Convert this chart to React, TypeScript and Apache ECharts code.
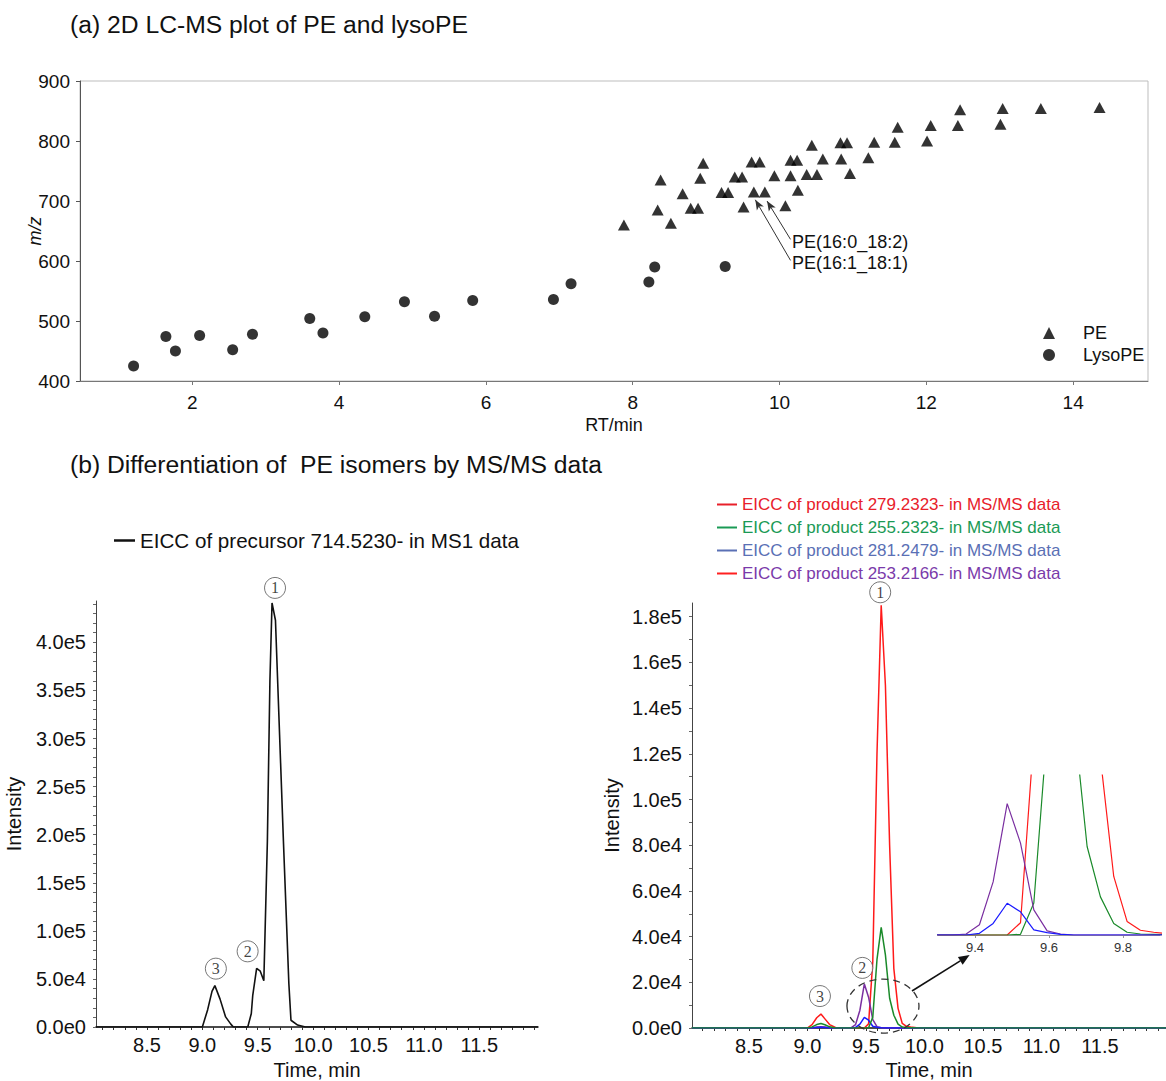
import React, { useEffect, useRef } from 'react';
import * as echarts from 'echarts';

const FONT = '"Liberation Sans", Arial, Helvetica, sans-serif';
const SERIF = '"Liberation Serif", "DejaVu Serif", serif';

// ---------- (a) 2D LC-MS scatter ----------
const peRT = [7.88, 8.38, 8.34, 8.52, 8.68, 8.79, 8.89, 8.92, 8.96, 9.21, 9.30, 9.39, 9.49, 9.51, 9.62, 9.73, 9.65, 9.80, 9.93, 10.08, 10.15, 10.24, 10.15, 10.25, 10.37, 10.51, 10.44, 10.59, 10.83, 10.92, 10.84, 10.96, 11.21, 11.29, 11.57, 11.61, 12.01, 12.06, 12.43, 12.46, 13.01, 13.04, 13.56, 14.36];
const peMZ = [660, 735, 685, 663, 712, 688, 688, 738, 763, 714, 714, 740, 740, 690, 765, 765, 715, 715, 742, 692, 768, 768, 742, 718, 744, 744, 793, 770, 797, 797, 770, 746, 772, 798, 798, 823, 800, 826, 826, 852, 828, 854, 854, 856];
const lysoRT = [1.20, 1.64, 1.77, 2.10, 2.55, 2.82, 3.60, 3.78, 4.35, 4.89, 5.30, 5.82, 6.92, 7.16, 8.22, 8.30, 9.26];
const lysoMZ = [425, 474, 450, 476, 452, 478, 504, 480, 507, 532, 508, 534, 536, 562, 565, 590, 591];
const rtTicks = [2, 4, 6, 8, 10, 12, 14];

// ---------- (b) left: MS1 EICC ----------
const ms1Time = [8.04, 9.0, 9.048, 9.087, 9.113, 9.16, 9.21, 9.257, 9.28, 9.41, 9.442, 9.455, 9.49, 9.523, 9.555, 9.587, 9.61, 9.629, 9.66, 9.732, 9.781, 9.8, 9.86, 9.93, 12.03];
const ms1Int = [0, 0, 18000, 37000, 43000, 29000, 10500, 3000, 0, 0, 14000, 33000, 61000, 58000, 48000, 193000, 360000, 441000, 423000, 193000, 45000, 7000, 2000, 0, 0];

// ---------- (b) right: MS/MS EICC ----------
const msmsTime = [8.014, 8.96, 9.0, 9.04, 9.08, 9.116, 9.15, 9.19, 9.24, 9.28, 9.34, 9.376, 9.412, 9.449, 9.487, 9.523, 9.559, 9.595, 9.631, 9.667, 9.703, 9.739, 9.775, 9.811, 9.847, 9.883, 9.95, 12.065];
const eicc279 = [0, 0, 0, 1500, 4500, 6100, 4000, 1500, 200, 0, 0, 0, 0, 0, 0, 1800, 29000, 120000, 185000, 150000, 80000, 26000, 8600, 2000, 700, 400, 0, 0];
const eicc255 = [0, 0, 0, 500, 1500, 2000, 1400, 500, 0, 0, 0, 0, 0, 0, 0, 100, 4700, 30000, 44000, 32000, 13000, 5600, 1700, 400, 150, 100, 0, 0];
const eicc281 = [0, 0, 0, 0, 200, 300, 200, 0, 0, 0, 0, 0, 250, 1700, 4660, 3400, 750, 350, 100, 0, 0, 0, 0, 0, 0, 0, 0, 0];
const eicc253 = [0, 0, 0, 100, 400, 600, 400, 100, 0, 0, 0, 150, 1500, 7800, 19300, 13500, 3700, 600, 150, 0, 0, 0, 0, 0, 0, 0, 0, 0];

const timeTicks = [8.5, 9.0, 9.5, 10.0, 10.5, 11.0, 11.5];
const insetTicks = [9.4, 9.6, 9.8];

const MS1_NAME = 'EICC of precursor 714.5230- in MS1 data';
const N279 = 'EICC of product 279.2323- in MS/MS data';
const N255 = 'EICC of product 255.2323- in MS/MS data';
const N281 = 'EICC of product 281.2479- in MS/MS data';
const N253 = 'EICC of product 253.2166- in MS/MS data';

const C_RED = '#ff1a1a';
const C_GREEN = '#1a8a2a';
const C_BLUE = '#1a1aff';
const C_PURPLE = '#7a2fa0';

const pairs = (xs: number[], ys: number[]) => xs.map((x, i) => [x, ys[i]]);
const range = (a: number, b: number, step: number) => {
  const out: number[] = [];
  for (let k = Math.round(a / step); k <= Math.round(b / step); k++) out.push(+(k * step).toFixed(6));
  return out;
};
const expFmt = (v: number) => v.toExponential(1).replace('e+', 'e');

export default function App() {
  const ref = useRef<HTMLDivElement>(null);
  useEffect(() => {
    document.body.style.margin = '0';
    const chart = echarts.init(ref.current!, null, { renderer: 'svg' });

    const tickLabel = { fontFamily: FONT, color: '#111' };
    const circ = (value: number[], label: string, off: number[]) => ({
      value,
      symbolOffset: off,
      label: { formatter: label },
    });
    const circleSeries = (xi: number, data: any[]) => ({
      type: 'scatter',
      name: 'peak-' + xi,
      xAxisIndex: xi,
      yAxisIndex: xi,
      clip: false,
      z: 10,
      symbol: 'circle',
      symbolSize: 21,
      itemStyle: { color: '#fff', borderColor: '#555', borderWidth: 1 },
      label: { show: true, position: 'inside', fontFamily: SERIF, fontSize: 16, color: '#111' },
      silent: true,
      data,
    });

    const option: any = {
      animation: false,
      backgroundColor: '#fff',
      title: [
        { text: '(a) 2D LC-MS plot of PE and lysoPE', left: 70, top: 12, padding: 0, textStyle: { fontFamily: FONT, fontSize: 24.7, fontWeight: 'normal', color: '#111' } },
        { text: '(b) Differentiation of  PE isomers by MS/MS data', left: 70, top: 452, padding: 0, textStyle: { fontFamily: FONT, fontSize: 24.7, fontWeight: 'normal', color: '#111' } },
      ],
      legend: [
        {
          data: ['PE', 'LysoPE'], orient: 'vertical', left: 1038, top: 319, itemWidth: 12, itemHeight: 12, itemGap: 4,
          selectedMode: false, textStyle: { fontFamily: FONT, fontSize: 18, color: '#111', padding: [0, 0, 0, 23] },
        },
        {
          data: [MS1_NAME], left: 109, top: 525, icon: 'rect', itemWidth: 21, itemHeight: 2.5, selectedMode: false,
          itemStyle: { color: '#111' },
          textStyle: { fontFamily: FONT, fontSize: 20.6, color: '#111' },
        },
        {
          data: [
            { name: N279, itemStyle: { color: '#e8202a' }, textStyle: { color: '#e8202a' } },
            { name: N255, itemStyle: { color: '#1a9a55' }, textStyle: { color: '#1a9a55' } },
            { name: N281, itemStyle: { color: '#5a70b5' }, textStyle: { color: '#5a70b5' } },
            { name: N253, itemStyle: { color: '#ff2020' }, textStyle: { color: '#7a3aaa' } },
          ],
          orient: 'vertical', left: 712, top: 491, icon: 'rect', itemWidth: 20, itemHeight: 2, itemGap: 6, selectedMode: false,
          textStyle: { fontFamily: FONT, fontSize: 17 },
        },
      ],
      grid: [
        { left: 80, top: 81, width: 1068, height: 300, show: true, borderColor: '#bdbdbd', borderWidth: 1, outerBoundsMode: 'none', containLabel: false },
        { left: 96, top: 601, width: 442, height: 426, outerBoundsMode: 'none', containLabel: false },
        { left: 692, top: 603, width: 474, height: 425, outerBoundsMode: 'none', containLabel: false },
        { left: 938, top: 775, width: 222, height: 160, outerBoundsMode: 'none', containLabel: false },
      ],
      xAxis: [
        {
          gridIndex: 0, type: 'value', min: 0.47, max: 15.02,
          name: 'RT/min', nameLocation: 'middle', nameGap: 35, nameMoveOverlap: false,
          nameTextStyle: { fontFamily: FONT, fontSize: 18, color: '#111' },
          axisLine: { onZero: false, lineStyle: { color: '#777' } },
          axisTick: { show: true, length: 4, customValues: rtTicks, lineStyle: { color: '#777' } },
          axisLabel: { ...tickLabel, fontSize: 19, margin: 12, customValues: rtTicks },
          splitLine: { show: false },
        },
        {
          gridIndex: 1, type: 'value', min: 8.04, max: 12.03,
          name: 'Time, min', nameLocation: 'middle', nameGap: 33, nameMoveOverlap: false,
          nameTextStyle: { fontFamily: FONT, fontSize: 20, lineHeight: 20, color: '#111' },
          axisLine: { onZero: false, lineStyle: { color: '#111', width: 1.5 } },
          axisTick: { show: true, length: 3, customValues: range(8.1, 12.0, 0.1), lineStyle: { color: '#333' } },
          axisLabel: { ...tickLabel, fontSize: 20, margin: 8, customValues: timeTicks, formatter: (v: number) => v.toFixed(1) },
          splitLine: { show: false },
        },
        {
          gridIndex: 2, type: 'value', min: 8.014, max: 12.065,
          name: 'Time, min', nameLocation: 'middle', nameGap: 32, nameMoveOverlap: false,
          nameTextStyle: { fontFamily: FONT, fontSize: 20, lineHeight: 20, color: '#111' },
          axisLine: { onZero: false, lineStyle: { color: '#111', width: 1.5 } },
          axisTick: { show: true, length: 3, customValues: range(8.1, 12.0, 0.1), lineStyle: { color: '#333' } },
          axisLabel: { ...tickLabel, fontSize: 20, margin: 8, customValues: timeTicks, formatter: (v: number) => v.toFixed(1) },
          splitLine: { show: false },
        },
        {
          gridIndex: 3, type: 'value', min: 9.3, max: 9.9,
          axisLine: { onZero: false, lineStyle: { color: '#999' } },
          axisTick: { show: true, length: 3, customValues: insetTicks, lineStyle: { color: '#999' } },
          axisLabel: { fontFamily: FONT, fontSize: 13, color: '#333', margin: 6, customValues: insetTicks, formatter: (v: number) => v.toFixed(1) },
          splitLine: { show: false },
        },
      ],
      yAxis: [
        {
          gridIndex: 0, type: 'value', min: 400, max: 900, interval: 100,
          name: 'm/z', nameLocation: 'middle', nameGap: 36, nameMoveOverlap: false,
          nameTextStyle: { fontFamily: FONT, fontSize: 18, fontStyle: 'italic', color: '#111' },
          axisLine: { show: true, lineStyle: { color: '#555' } },
          axisTick: { show: true, length: 4, lineStyle: { color: '#555' } },
          axisLabel: { ...tickLabel, fontSize: 19, margin: 10 },
          splitLine: { show: false },
        },
        {
          gridIndex: 1, type: 'value', min: 0, max: 443000,
          name: 'Intensity', nameLocation: 'middle', nameGap: 72, nameMoveOverlap: false,
          nameTextStyle: { fontFamily: FONT, fontSize: 20, color: '#111' },
          axisLine: { show: true, lineStyle: { color: '#444' } },
          axisTick: { show: true, length: 3, customValues: range(0, 440000, 10000), lineStyle: { color: '#666' } },
          axisLabel: { ...tickLabel, fontSize: 20, margin: 10, customValues: range(0, 400000, 50000), formatter: expFmt },
          splitLine: { show: false },
        },
        {
          gridIndex: 2, type: 'value', min: 0, max: 186000,
          name: 'Intensity', nameLocation: 'middle', nameGap: 70, nameMoveOverlap: false,
          nameTextStyle: { fontFamily: FONT, fontSize: 20, color: '#111' },
          axisLine: { show: true, lineStyle: { color: '#444' } },
          axisTick: { show: true, length: 3, customValues: range(0, 180000, 10000), lineStyle: { color: '#666' } },
          axisLabel: { ...tickLabel, fontSize: 20, margin: 10, customValues: range(0, 180000, 20000), formatter: expFmt },
          splitLine: { show: false },
        },
        {
          gridIndex: 3, type: 'value', min: 0, max: 23500, show: false,
          splitLine: { show: false },
        },
      ],
      series: [
        {
          type: 'scatter', name: 'PE', xAxisIndex: 0, yAxisIndex: 0, symbol: 'triangle', symbolSize: [12, 11],
          itemStyle: { color: '#000' }, data: pairs(peRT, peMZ),
          markLine: {
            silent: true, symbol: ['arrow', 'none'], symbolSize: [6, 10], animation: false,
            lineStyle: { color: '#333', width: 1, type: 'solid' },
            label: { show: true, position: 'end', formatter: '{b}', fontFamily: FONT, fontSize: 18, color: '#111', align: 'left', verticalAlign: 'middle', distance: 3 },
            data: [
              [{ coord: [9.83, 700], name: 'PE(16:0_18:2)' }, { coord: [10.15, 636] }],
              [{ coord: [9.67, 702], name: 'PE(16:1_18:1)' }, { coord: [10.15, 601] }],
            ],
          },
        },
        {
          type: 'scatter', name: 'LysoPE', xAxisIndex: 0, yAxisIndex: 0, symbol: 'circle', symbolSize: 11,
          itemStyle: { color: '#000' }, data: pairs(lysoRT, lysoMZ),
        },
        {
          type: 'line', name: MS1_NAME, xAxisIndex: 1, yAxisIndex: 1, symbol: 'none', showSymbol: false,
          lineStyle: { color: '#111', width: 1.6 }, itemStyle: { color: '#111' }, data: pairs(ms1Time, ms1Int),
        },
        circleSeries(1, [
          circ([9.629, 441000], '1', [3, -15]),
          circ([9.49, 61000], '2', [-9, -17]),
          circ([9.113, 43000], '3', [1, -17]),
        ]),
        // main MS/MS chart
        { type: 'line', name: N279, xAxisIndex: 2, yAxisIndex: 2, symbol: 'none', lineStyle: { color: C_RED, width: 1.5 }, itemStyle: { color: C_RED }, data: pairs(msmsTime, eicc279) },
        { type: 'line', name: N253, xAxisIndex: 2, yAxisIndex: 2, symbol: 'none', lineStyle: { color: C_PURPLE, width: 1.5 }, itemStyle: { color: C_PURPLE }, data: pairs(msmsTime, eicc253) },
        { type: 'line', name: N281, xAxisIndex: 2, yAxisIndex: 2, symbol: 'none', lineStyle: { color: C_BLUE, width: 1.5 }, itemStyle: { color: C_BLUE }, data: pairs(msmsTime, eicc281) },
        { type: 'line', name: N255, xAxisIndex: 2, yAxisIndex: 2, symbol: 'none', lineStyle: { color: C_GREEN, width: 1.5 }, itemStyle: { color: C_GREEN }, data: pairs(msmsTime, eicc255) },
        // inset
        { type: 'line', name: N279, xAxisIndex: 3, yAxisIndex: 3, symbol: 'none', lineStyle: { color: C_RED, width: 1.2 }, itemStyle: { color: C_RED }, data: pairs(msmsTime, eicc279) },
        { type: 'line', name: N255, xAxisIndex: 3, yAxisIndex: 3, symbol: 'none', lineStyle: { color: C_GREEN, width: 1.2 }, itemStyle: { color: C_GREEN }, data: pairs(msmsTime, eicc255) },
        { type: 'line', name: N253, xAxisIndex: 3, yAxisIndex: 3, symbol: 'none', lineStyle: { color: C_PURPLE, width: 1.2 }, itemStyle: { color: C_PURPLE }, data: pairs(msmsTime, eicc253) },
        { type: 'line', name: N281, xAxisIndex: 3, yAxisIndex: 3, symbol: 'none', lineStyle: { color: C_BLUE, width: 1.2 }, itemStyle: { color: C_BLUE }, data: pairs(msmsTime, eicc281) },
        circleSeries(2, [
          circ([9.631, 185000], '1', [-1, -13]),
          circ([9.487, 19300], '2', [-2, -16]),
          circ([9.116, 6100], '3', [-1, -18]),
        ]),
      ],
    };
    chart.setOption(option);

    // annotation: dashed ellipse and arrow pointing to the inset
    const c = chart.convertToPixel({ gridIndex: 2 } as any, [9.646, 9600]) as number[];
    const a0 = chart.convertToPixel({ gridIndex: 2 } as any, [9.894, 16200]) as number[];
    const base = chart.convertToPixel({ gridIndex: 3 } as any, [9.38, 0]) as number[];
    const a1 = [base[0] + 2, base[1] + 20];
    const dx = a1[0] - a0[0];
    const dy = a1[1] - a0[1];
    const len = Math.sqrt(dx * dx + dy * dy);
    const ux = dx / len;
    const uy = dy / len;
    const back = [a1[0] - ux * 11, a1[1] - uy * 11];
    const nx = -uy;
    const ny = ux;
    chart.setOption({
      graphic: [
        { type: 'ellipse', z: 100, shape: { cx: c[0], cy: c[1], rx: 36, ry: 27 }, style: { fill: 'none', stroke: '#333', lineWidth: 1.3, lineDash: [7, 5] } },
        { type: 'line', z: 100, shape: { x1: a0[0], y1: a0[1], x2: back[0], y2: back[1] }, style: { stroke: '#111', lineWidth: 1.6 } },
        {
          type: 'polygon', z: 100,
          shape: { points: [[a1[0], a1[1]], [back[0] + nx * 4.5, back[1] + ny * 4.5], [back[0] - nx * 4.5, back[1] - ny * 4.5]] },
          style: { fill: '#111' },
        },
      ],
    });

    return () => chart.dispose();
  }, []);
  return <div ref={ref} style={{ width: 1166, height: 1081 }} />;
}
